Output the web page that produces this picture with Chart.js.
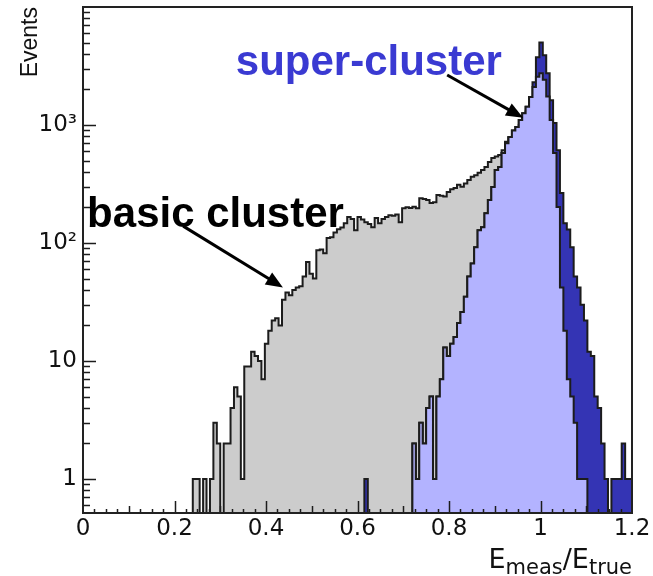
<!DOCTYPE html>
<html>
<head>
<meta charset="utf-8">
<script src="https://cdn.jsdelivr.net/npm/chart.js@4.4.1/dist/chart.umd.min.js"></script>
<style>
  html, body { margin: 0; padding: 0; background: #fff; }
  #wrap { width: 653px; height: 576px; }
</style>
</head>
<body>
<div id="wrap"><canvas id="c" width="653" height="576"></canvas></div>
<script>
// histogram bins, width in E_meas/E_true
const binWidth = 0.0075;

// basic cluster (grey), first bin starts at 0.24
const basicStart = 0.24;
const basicCounts = [
  1, 1, 0, 1, 0, 1, 3, 2, 0, 2, 2, 4, 6, 5, 1, 9, 9, 12, 11, 10,
  7, 14, 18, 22, 23, 20, 33, 38, 36, 40, 42, 43, 52, 69, 55, 50, 87, 88, 82, 110,
  112, 123, 131, 135, 147, 166, 160, 128, 166, 158, 150, 145, 136, 163, 147, 160, 166, 172, 170, 174,
  150, 197, 201, 198, 203, 197, 240, 236, 231, 218, 222, 255, 252, 248, 270, 285, 292, 311, 300, 320,
  342, 364, 375, 394, 415, 440, 486, 525, 540, 556, 612, 720, 780, 790, 880, 1000, 1150, 1300, 1500, 1700,
  1900, 1800, 1500, 1000, 600, 300, 120, 40, 12, 4, 2, 1
];

// super-cluster (dark blue), first bin starts at 0.60
const superStart = 0.6;
const superCounts = [
  0, 0, 1, 0, 0, 0, 0, 0, 0, 0, 0, 0, 0, 0, 0, 0,
  2, 1, 3, 2, 4, 5, 1, 5, 7, 13, 11, 14, 16, 21, 26, 35, 52, 67, 92, 128,
  136, 179, 231, 298, 415, 440, 580, 700, 790, 900, 960, 1100, 1260, 1430, 1730,
  2300, 3750, 5000, 3900, 2750, 1620, 1040, 612, 265, 147, 130, 92, 52, 42, 30,
  22, 12, 11, 5, 4, 2, 1, 0, 1, 1, 1, 2, 1, 1
];

// super-cluster core (light blue), first bin starts at 0.72
const coreStart = 0.72;
const coreCounts = [
  2, 1, 3, 2, 4, 5, 1, 5, 7, 13, 11, 14, 16, 21, 26, 35, 52, 67, 92, 128,
  136, 179, 231, 298, 415, 440, 580, 700, 790, 900, 960, 1100, 1260, 1430, 1730, 2100, 2560, 2750, 2420, 1740,
  1100, 580, 202, 42, 18, 7, 5, 3, 1, 1, 1
];

const xTickLabels = ['0', '0.2', '0.4', '0.6', '0.8', '1', '1.2'];
const yTickValues = [1, 10, 100, 1000];
const yTickLabels = ['1', '10', '10\u00B2', '10\u00B3'];

const notes = [
  { text: 'super-cluster', color: '#3a3ad2', x: 0.334, y: 2650, tail: [0.796, 2650], tip: [0.962, 1150] },
  { text: 'basic cluster', color: '#000000', x: 0.009, y: 137, tail: [0.219, 139], tip: [0.437, 42] }
];

const EMPTY = 0.05; // empty bins sit below the axis minimum

function histPoints(start, counts) {
  const pts = [{ x: start, y: EMPTY }];
  counts.forEach((c, i) => pts.push({ x: start + i * binWidth, y: c > 0 ? c : EMPTY }));
  pts.push({ x: start + counts.length * binWidth, y: EMPTY });
  return pts;
}

function histDataset(label, start, counts, fill, order) {
  return {
    label: label,
    data: histPoints(start, counts),
    stepped: true,
    fill: 'start',
    backgroundColor: fill,
    borderColor: '#1c1c1c',
    borderWidth: 2,
    pointRadius: 0,
    order: order
  };
}

const axisMarks = {
  id: 'axisMarks',
  afterDatasetsDraw(chart) {
    const { ctx, chartArea: a, scales: { x, y } } = chart;
    ctx.save();
    ctx.strokeStyle = '#1c1c1c';
    ctx.lineWidth = 1.5;
    ctx.beginPath();
    for (let k = 1; k < 48; k++) {
      const len = k % 8 === 0 ? 12 : (k % 4 === 0 ? 7 : 4);
      const px = Math.round(x.getPixelForValue(k * 0.025)) + 0.5;
      ctx.moveTo(px, a.bottom);
      ctx.lineTo(px, a.bottom - len);
    }
    for (let d = 0.1; d < 1e5; d *= 10) {
      for (let m = 1; m <= 9; m++) {
        const v = m * d;
        if (v <= y.min || v >= y.max) continue;
        const py = Math.round(y.getPixelForValue(v)) + 0.5;
        ctx.moveTo(a.left, py);
        ctx.lineTo(a.left + (m === 1 ? 13 : 7), py);
      }
    }
    ctx.stroke();
    ctx.lineWidth = 2;
    ctx.strokeStyle = '#222';
    ctx.strokeRect(a.left, a.top, a.width, a.height);
    ctx.restore();
  },
  afterDraw(chart) {
    const { ctx, chartArea: a, scales: { x, y } } = chart;
    ctx.save();
    // notes with arrows
    notes.forEach(n => {
      ctx.font = 'bold 42px "Liberation Sans", Arial, sans-serif';
      ctx.fillStyle = n.color;
      ctx.textBaseline = 'alphabetic';
      ctx.textAlign = 'left';
      ctx.fillText(n.text, x.getPixelForValue(n.x), y.getPixelForValue(n.y));
      const x0 = x.getPixelForValue(n.tail[0]), y0 = y.getPixelForValue(n.tail[1]);
      const x1 = x.getPixelForValue(n.tip[0]), y1 = y.getPixelForValue(n.tip[1]);
      const ang = Math.atan2(y1 - y0, x1 - x0);
      const hl = 17, hw = 7;
      ctx.strokeStyle = '#000';
      ctx.fillStyle = '#000';
      ctx.lineWidth = 3;
      ctx.beginPath();
      ctx.moveTo(x0, y0);
      ctx.lineTo(x1 - Math.cos(ang) * hl * 0.8, y1 - Math.sin(ang) * hl * 0.8);
      ctx.stroke();
      ctx.beginPath();
      ctx.moveTo(x1, y1);
      ctx.lineTo(x1 - Math.cos(ang) * hl - Math.sin(ang) * hw, y1 - Math.sin(ang) * hl + Math.cos(ang) * hw);
      ctx.lineTo(x1 - Math.cos(ang) * hl + Math.sin(ang) * hw, y1 - Math.sin(ang) * hl - Math.cos(ang) * hw);
      ctx.closePath();
      ctx.fill();
    });
    // x axis title E_meas / E_true
    const parts = [['E', 27, 0], ['meas', 21, 6], ['/', 27, 0], ['E', 27, 0], ['true', 21, 6]];
    let total = 0;
    parts.forEach(p => { ctx.font = p[1] + 'px "DejaVu Sans", sans-serif'; total += ctx.measureText(p[0]).width; });
    let tx = a.right - total;
    const base = 568;
    ctx.fillStyle = '#111';
    ctx.textAlign = 'left';
    ctx.textBaseline = 'alphabetic';
    parts.forEach(p => {
      ctx.font = p[1] + 'px "DejaVu Sans", sans-serif';
      ctx.fillText(p[0], tx, base + p[2]);
      tx += ctx.measureText(p[0]).width;
    });
    ctx.restore();
  }
};

const tickFont = { family: '"DejaVu Sans", sans-serif', size: 23 };

new Chart(document.getElementById('c'), {
  type: 'line',
  data: {
    datasets: [
      histDataset('super-cluster core', coreStart, coreCounts, '#b3b3ff', 1),
      histDataset('super-cluster', superStart, superCounts, '#3434b4', 2),
      histDataset('basic cluster', basicStart, basicCounts, '#cccccc', 3)
    ]
  },
  options: {
    responsive: false,
    devicePixelRatio: 1,
    animation: false,
    layout: { padding: { top: 7, right: 21, left: 0, bottom: 0 } },
    plugins: { legend: { display: false }, tooltip: { enabled: false } },
    scales: {
      x: {
        type: 'linear',
        min: 0,
        max: 1.2,
        grid: { display: false, drawTicks: false },
        border: { display: false },
        ticks: {
          stepSize: 0.2,
          autoSkip: false,
          maxRotation: 0,
          padding: 2,
          color: '#111',
          font: tickFont,
          callback: (v, i) => xTickLabels[i]
        },
        afterFit: s => { s.height = 63; s.paddingLeft = 0; s.paddingRight = 0; }
      },
      y: {
        type: 'logarithmic',
        min: 0.515,
        max: 10000,
        grid: { display: false, drawTicks: false },
        border: { display: false },
        afterBuildTicks: s => { s.ticks = yTickValues.map(v => ({ value: v })); },
        ticks: {
          autoSkip: false,
          padding: 6,
          color: '#111',
          font: tickFont,
          callback: v => yTickLabels[yTickValues.indexOf(v)]
        },
        title: {
          display: true,
          text: 'Events',
          align: 'end',
          color: '#111',
          font: { family: '"Liberation Sans", Arial, sans-serif', size: 23 },
          padding: { top: 17, bottom: 0 }
        },
        afterFit: s => { s.width = 83; s.paddingTop = 0; s.paddingBottom = 0; }
      }
    }
  },
  plugins: [axisMarks]
});
</script>
</body>
</html>
